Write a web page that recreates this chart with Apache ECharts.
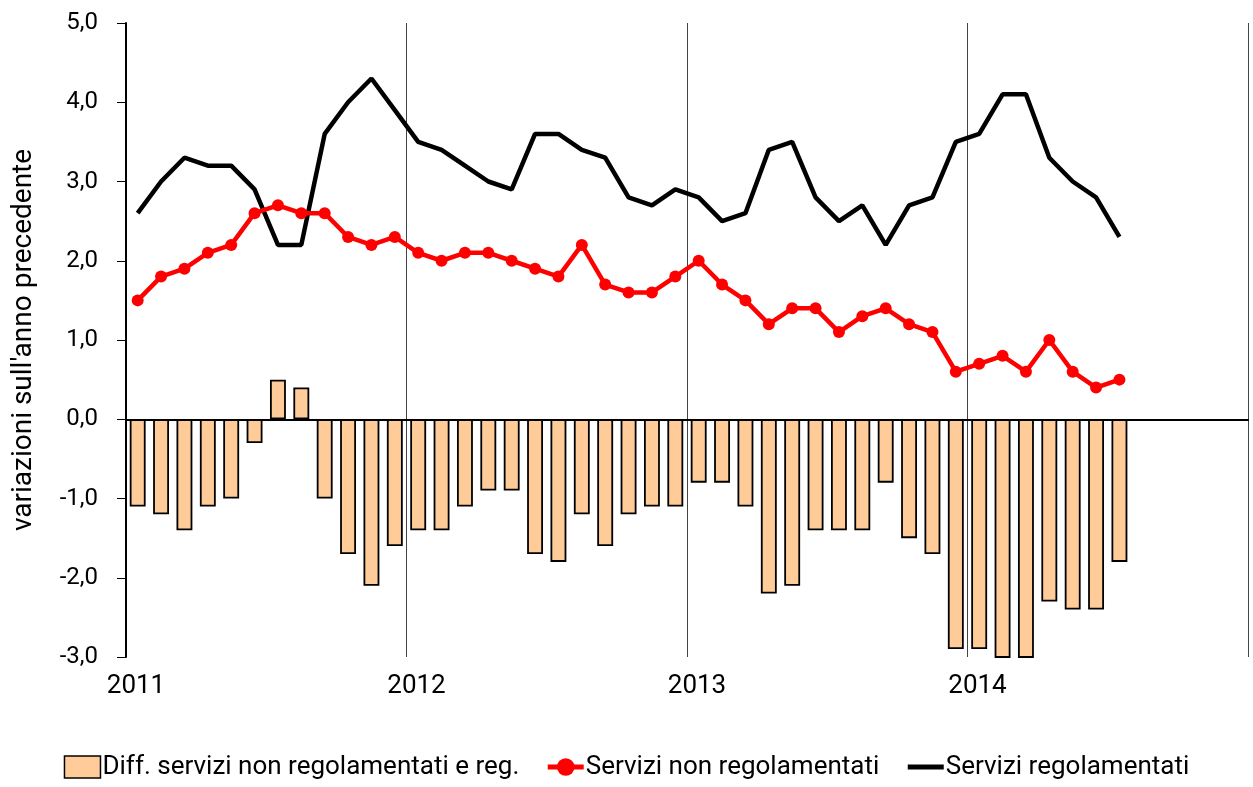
<!DOCTYPE html>
<html>
<head>
<meta charset="utf-8">
<script src="https://cdn.jsdelivr.net/npm/echarts@6/dist/echarts.min.js"></script>
<style>
  html, body { margin: 0; padding: 0; background: #fff; }
  #chart { width: 1253px; height: 787px; }
</style>
</head>
<body>
<div id="chart"></div>
<script>
// mesi da gen 2011 a dic 2014
const years = [2011, 2012, 2013, 2014]
const months = ['gen', 'feb', 'mar', 'apr', 'mag', 'giu', 'lug', 'ago', 'set', 'ott', 'nov', 'dic']
const categories = []
years.forEach((y) => months.forEach((m) => categories.push(m + ' ' + y)))

const diffValues = [
  -1.1, -1.2, -1.4, -1.1, -1.0, -0.3, 0.5, 0.4, -1.0, -1.7, -2.1, -1.6,
  -1.4, -1.4, -1.1, -0.9, -0.9, -1.7, -1.8, -1.2, -1.6, -1.2, -1.1, -1.1,
  -0.8, -0.8, -1.1, -2.2, -2.1, -1.4, -1.4, -1.4, -0.8, -1.5, -1.7, -2.9,
  -2.9, -3.3, -3.5, -2.3, -2.4, -2.4, -1.8,
]
const nonRegValues = [
  1.5, 1.8, 1.9, 2.1, 2.2, 2.6, 2.7, 2.6, 2.6, 2.3, 2.2, 2.3,
  2.1, 2.0, 2.1, 2.1, 2.0, 1.9, 1.8, 2.2, 1.7, 1.6, 1.6, 1.8,
  2.0, 1.7, 1.5, 1.2, 1.4, 1.4, 1.1, 1.3, 1.4, 1.2, 1.1, 0.6,
  0.7, 0.8, 0.6, 1.0, 0.6, 0.4, 0.5,
]
const regValues = [
  2.6, 3.0, 3.3, 3.2, 3.2, 2.9, 2.2, 2.2, 3.6, 4.0, 4.3, 3.9,
  3.5, 3.4, 3.2, 3.0, 2.9, 3.6, 3.6, 3.4, 3.3, 2.8, 2.7, 2.9,
  2.8, 2.5, 2.6, 3.4, 3.5, 2.8, 2.5, 2.7, 2.2, 2.7, 2.8, 3.5,
  3.6, 4.1, 4.1, 3.3, 3.0, 2.8, 2.3,
]
const seriesNames = [
  'Diff. servizi non regolamentati e reg.',
  'Servizi non regolamentati',
  'Servizi regolamentati',
]

const chart = echarts.init(document.getElementById('chart'))

const option = {
  animation: false,
  textStyle: { fontFamily: 'Roboto, sans-serif', color: '#000' },
  grid: { left: 126, right: 5, top: 23, bottom: 130 },
  legend: {
    bottom: 2,
    left: 'center',
    itemGap: 26,
    itemWidth: 36,
    itemHeight: 22,
    textStyle: { fontSize: 26, color: '#000', padding: [0, 0, 0, -3] },
    data: [
      { name: seriesNames[0], icon: 'rect', itemStyle: { color: '#FFCC99', borderColor: '#000', borderWidth: 1.5 } },
      { name: seriesNames[1], lineStyle: { width: 5 } },
      { name: seriesNames[2], itemStyle: { opacity: 0 }, lineStyle: { width: 5 } },
    ],
  },
  xAxis: [
    {
      type: 'category',
      data: categories,
      boundaryGap: true,
      axisLine: { onZero: true, lineStyle: { color: '#000', width: 2 } },
      axisTick: { show: false },
      axisLabel: { show: false },
      splitLine: { show: false },
    },
    {
      // asse degli anni: linee verticali e etichette
      type: 'value',
      min: 0,
      max: 48,
      interval: 12,
      position: 'bottom',
      axisLine: { show: false, onZero: false },
      axisTick: { show: false },
      axisLabel: {
        fontSize: 26,
        color: '#000',
        margin: 16,
        padding: [0, 0, 0, 20],
        formatter: (v) => (v < 48 ? String(years[v / 12]) : ''),
      },
      splitLine: { show: true, lineStyle: { color: '#444', width: 1 } },
    },
  ],
  yAxis: {
    type: 'value',
    min: -3,
    max: 5,
    interval: 1,
    name: "variazioni sull'anno precedente",
    nameLocation: 'middle',
    nameGap: 88,
    nameTextStyle: { fontSize: 28, color: '#000' },
    axisLine: { show: true, lineStyle: { color: '#000', width: 2 } },
    axisTick: { show: true, length: 9, lineStyle: { color: '#000', width: 1 } },
    axisLabel: {
      fontSize: 24,
      color: '#000',
      margin: 28,
      formatter: (v) => v.toFixed(1).replace('.', ','),
    },
    splitLine: { show: false },
  },
  series: [
    {
      name: seriesNames[0],
      type: 'bar',
      xAxisIndex: 0,
      data: diffValues,
      barWidth: '68%',
      itemStyle: { color: '#FFCC99', borderColor: '#000', borderWidth: 1.8 },
      z: 1,
    },
    {
      name: seriesNames[1],
      type: 'line',
      xAxisIndex: 0,
      data: nonRegValues,
      symbol: 'circle',
      symbolSize: 12,
      itemStyle: { color: '#FF0000' },
      lineStyle: { color: '#FF0000', width: 4.5 },
      z: 3,
    },
    {
      name: seriesNames[2],
      type: 'line',
      xAxisIndex: 0,
      data: regValues,
      symbol: 'none',
      itemStyle: { color: '#000' },
      lineStyle: { color: '#000', width: 4.5 },
      z: 2,
    },
  ],
}

chart.setOption(option)
window.addEventListener('resize', () => chart.resize())
</script>
</body>
</html>
